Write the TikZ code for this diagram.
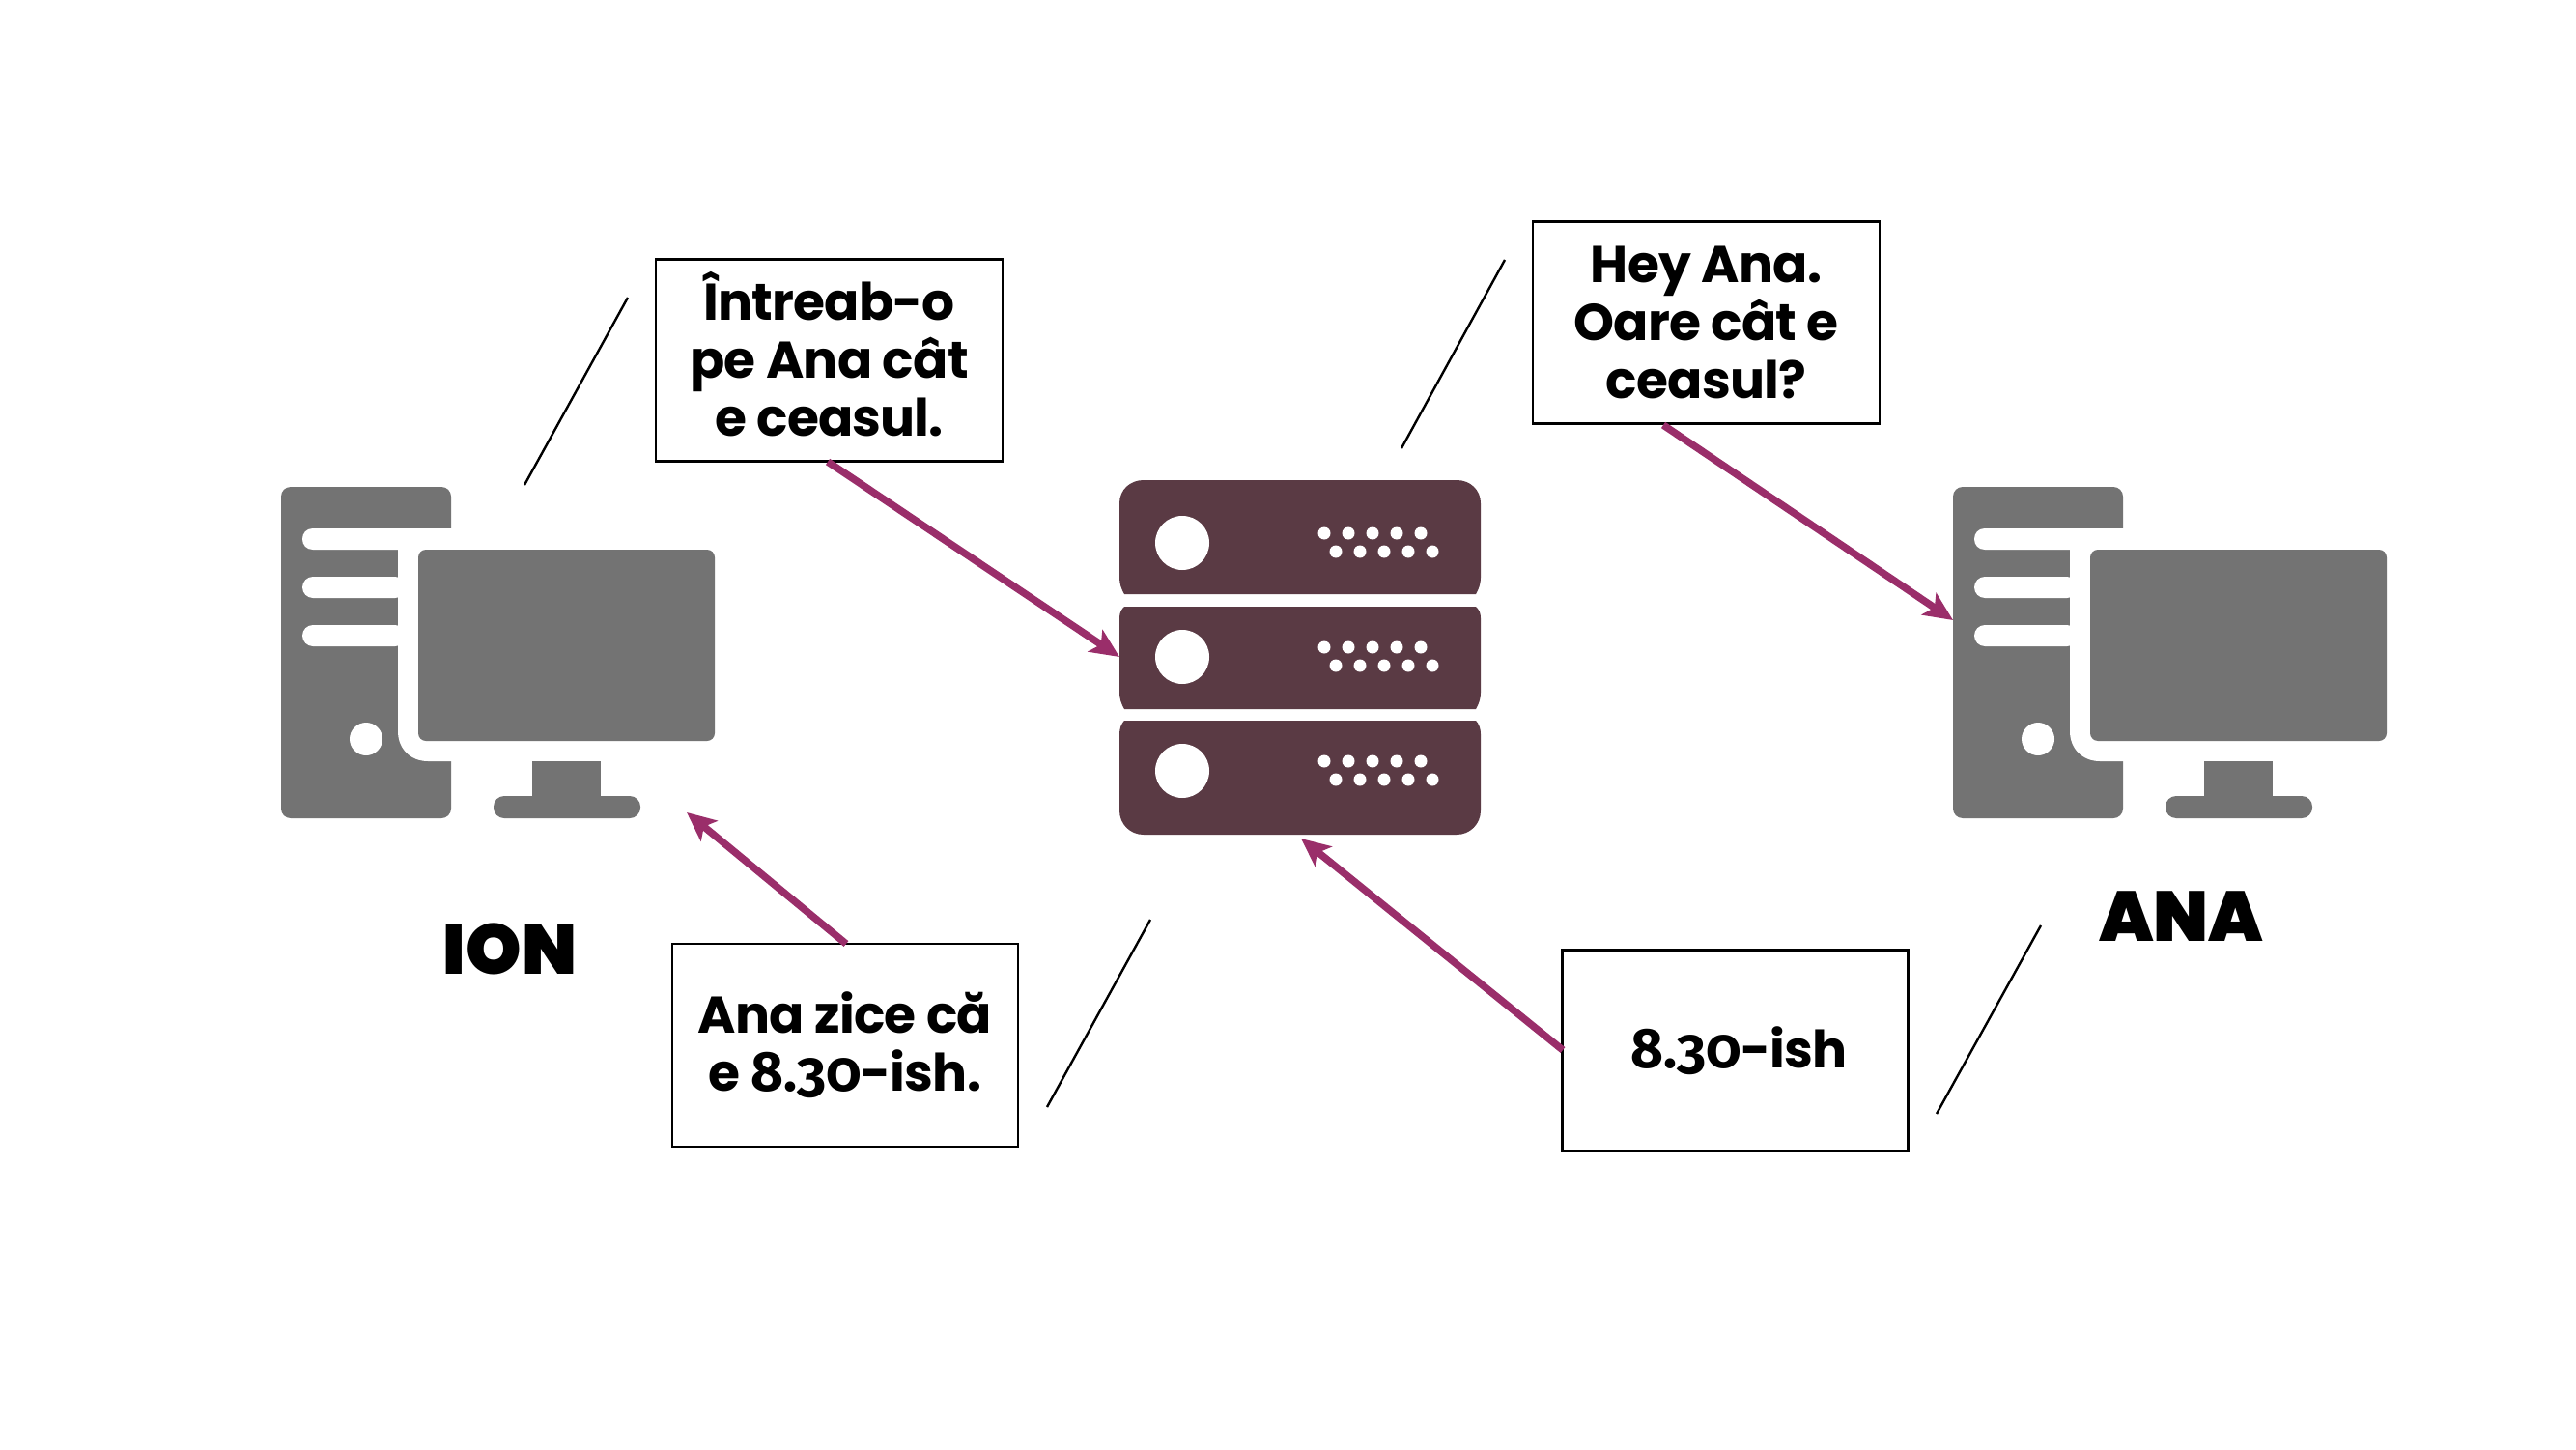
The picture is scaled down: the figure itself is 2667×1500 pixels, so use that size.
\documentclass[tikz,border=0pt]{standalone}
\usepackage{fontspec}
\usetikzlibrary{arrows.meta,calc}
\setmainfont{Poppins}[LetterSpace=-1.5]
\newfontfamily\heavyf{Poppins}[UprightFont=* Black,BoldFont=* Black]
\newfontfamily\oldf{Fira Sans}[Numbers=OldStyle]
\newcommand{\oldn}[1]{{\oldf\bfseries\fontsize{16.6}{17.07}\selectfont #1}}
\definecolor{pcgray}{HTML}{737373}
\definecolor{srv}{HTML}{5A3A44}
\definecolor{plum}{HTML}{9A2E6A}
\tikzset{
  x=0.01cm,y=-0.01cm,
  msgbox/.style={draw=black,line width=0.026cm,fill=white,inner sep=0pt,align=center,
     font=\bfseries\fontsize{15.2}{17.07}\selectfont},
  bigname/.style={inner sep=0pt,font=\heavyf\fontsize{20.8}{24}\selectfont},
  thinline/.style={draw=black,line width=0.024cm},
  flow/.style={draw=plum,line width=0.075cm,-{Stealth[length=0.3cm,width=0.27cm,inset=0.07cm]}},
  computer/.pic={
    \fill[pcgray,rounded corners=0.1cm] (291,504) rectangle (467,847);
    \fill[white] (469,547) -- (324,547) .. controls (317,547) and (313,552) .. (313,558)
      .. controls (313,564) and (317,569) .. (324,569) -- (412,569) -- (412,757)
      .. controls (412,775) and (425,788) .. (443,788) -- (469,788) -- cycle;
    \fill[white,rounded corners=0.11cm] (313,597) rectangle (420,619);
    \fill[white,rounded corners=0.11cm] (313,647) rectangle (420,669);
    \fill[white] (379,765) circle[radius=17];
    \fill[pcgray,rounded corners=0.08cm] (433,569) rectangle (740,767);
    \fill[pcgray] (551,788) rectangle (622,830);
    \fill[pcgray,rounded corners=0.11cm] (511,824) rectangle (663,847);
  },
  serverdots/.pic={
    \fill[white] (1224,562) circle[radius=28];
    \foreach \dx in {0,25,50,75,100}{
      \fill[white] (1371+\dx,552) circle[radius=6.5];
      \fill[white] (1383+\dx,571) circle[radius=6.5];
    }
  }
}
\begin{document}
\begin{tikzpicture}
\useasboundingbox (0,0) rectangle (2667,1500);
\fill[white] (0,0) rectangle (2667,1500);
% computers
\pic at (0,0) {computer};
\pic at (1731,0) {computer};
% server
\fill[srv] (1184,497) -- (1508,497) .. controls (1522,497) and (1533,507) .. (1533,521)
  -- (1533,598) .. controls (1533,604) and (1531,610) .. (1528,615) -- (1164,615)
  .. controls (1161,610) and (1159,604) .. (1159,598) -- (1159,521)
  .. controls (1159,507) and (1170,497) .. (1184,497) -- cycle;
\fill[srv] (1164,628) -- (1528,628) .. controls (1531,631) and (1533,634) .. (1533,640)
  -- (1533,717) .. controls (1533,723) and (1531,729) .. (1528,734) -- (1164,734)
  .. controls (1161,729) and (1159,723) .. (1159,717) -- (1159,640)
  .. controls (1159,634) and (1161,631) .. (1164,628) -- cycle;
\fill[srv] (1164,746) -- (1528,746) .. controls (1531,749) and (1533,754) .. (1533,760)
  -- (1533,839) .. controls (1533,853) and (1522,864) .. (1508,864) -- (1184,864)
  .. controls (1170,864) and (1159,853) .. (1159,839) -- (1159,760)
  .. controls (1159,754) and (1161,749) .. (1164,746) -- cycle;
\pic at (0,0) {serverdots};
\pic at (0,118) {serverdots};
\pic at (0,236) {serverdots};
% boxes
\node[msgbox,minimum width=3.59cm,minimum height=2.09cm,text depth=0.14cm] (ask) at (858.5,373)
  {Întreab-o\\pe Ana cât\\e ceasul.};
\node[msgbox,minimum width=3.59cm,minimum height=2.09cm] (hey) at (1766.5,334)
  {Hey Ana.\\Oare cât e\\ceasul?};
\node[msgbox,minimum width=3.58cm,minimum height=2.10cm] (says) at (875,1082)
  {Ana zice că\\e \oldn{8.30}-ish.};
\node[msgbox,minimum width=3.58cm,minimum height=2.08cm] (reply) at (1796.5,1087.5)
  {\hspace*{0.08cm}\oldn{8.30}-ish};
% names
\node[bigname] (ion) at (528,982) {ION};
\node[bigname] (ana) at (2258,949) {ANA};
% free ends
\coordinate (srvL) at (1159,680);
\coordinate (srvB) at (1347,868);
\coordinate (anaT) at (2022,642);
\coordinate (ionB) at (711,841);
\coordinate (askS) at (857,478);
\coordinate (heyS) at (1722,440);
\coordinate (replyW) at (1618,1087);
\coordinate (saysN) at (876,977);
\coordinate (t1a) at (650,308); \coordinate (t1b) at (543,502);
\coordinate (t2a) at (1558,269); \coordinate (t2b) at (1451,464);
\coordinate (t3a) at (1191,952); \coordinate (t3b) at (1084,1146);
\coordinate (t4a) at (2113,958); \coordinate (t4b) at (2005,1153);
% arrows
\draw[flow] (askS) -- (srvL);
\draw[flow] (heyS) -- (anaT);
\draw[flow] (saysN) -- (ionB);
\draw[flow] (replyW) -- (srvB);
% thin lines
\draw[thinline] (t1a) -- (t1b);
\draw[thinline] (t2a) -- (t2b);
\draw[thinline] (t3a) -- (t3b);
\draw[thinline] (t4a) -- (t4b);
\end{tikzpicture}
\end{document}
